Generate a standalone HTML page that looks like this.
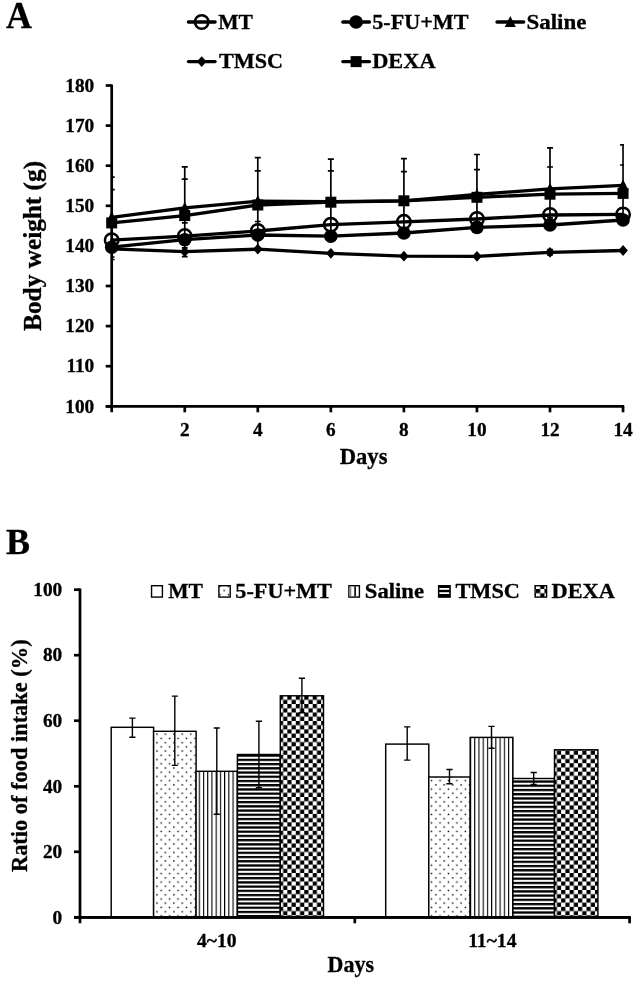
<!DOCTYPE html>
<html lang="en"><head><meta charset="utf-8"><title>Figure</title>
<style>html,body{margin:0;padding:0;background:#fff}body{width:642px;height:988px;overflow:hidden}svg{display:block}</style>
</head><body>
<svg width="642" height="988" viewBox="0 0 642 988" font-family='"Liberation Serif","DejaVu Serif",serif' font-weight="bold" fill="#000">
<defs>
<pattern id="pdot1" patternUnits="userSpaceOnUse" x="156.05" y="733.3" width="8.45" height="8.45"><rect width="8.45" height="8.45" fill="#fff"/><rect x="0.2" y="0.2" width="1.4" height="1.4" fill="#000"/><rect x="4.425" y="4.425" width="1.4" height="1.4" fill="#000"/></pattern>
<pattern id="pvs1" patternUnits="userSpaceOnUse" x="194.5" y="0" width="4.225" height="8"><rect width="4.225" height="8" fill="#fff"/><rect x="0" y="0" width="1.1" height="8" fill="#000"/></pattern>
<pattern id="phs1" patternUnits="userSpaceOnUse" x="0" y="754.5" width="8" height="4.225"><rect width="8" height="4.225" fill="#fff"/><rect x="0" y="0" width="8" height="2.3" fill="#000"/></pattern>
<pattern id="pck1" patternUnits="userSpaceOnUse" x="278.9" y="695.6" width="8.45" height="8.45"><rect width="8.45" height="8.45" fill="#fff"/><rect x="0" y="0" width="4.225" height="4.225" fill="#000"/><rect x="4.225" y="4.225" width="4.225" height="4.225" fill="#000"/></pattern>
<pattern id="pdot2" patternUnits="userSpaceOnUse" x="156.05" y="733.3" width="8.45" height="8.45"><rect width="8.45" height="8.45" fill="#fff"/><rect x="0.2" y="0.2" width="1.4" height="1.4" fill="#000"/><rect x="4.425" y="4.425" width="1.4" height="1.4" fill="#000"/></pattern>
<pattern id="pvs2" patternUnits="userSpaceOnUse" x="195.35" y="0" width="4.225" height="8"><rect width="4.225" height="8" fill="#fff"/><rect x="0" y="0" width="1.1" height="8" fill="#000"/></pattern>
<pattern id="phs2" patternUnits="userSpaceOnUse" x="0" y="755.05" width="8" height="4.225"><rect width="8" height="4.225" fill="#fff"/><rect x="0" y="0" width="8" height="2.3" fill="#000"/></pattern>
<pattern id="pck2" patternUnits="userSpaceOnUse" x="282.27" y="695.6" width="8.45" height="8.45"><rect width="8.45" height="8.45" fill="#fff"/><rect x="0" y="0" width="4.225" height="4.225" fill="#000"/><rect x="4.225" y="4.225" width="4.225" height="4.225" fill="#000"/></pattern>
<pattern id="pdotL" patternUnits="userSpaceOnUse" x="223.35" y="589.6" width="8.45" height="8.45"><rect width="8.45" height="8.45" fill="#fff"/><rect x="0.2" y="0.2" width="1.4" height="1.4" fill="#000"/><rect x="4.425" y="4.425" width="1.4" height="1.4" fill="#000"/></pattern>
<pattern id="pvsL" patternUnits="userSpaceOnUse" x="350" y="0" width="4.225" height="8"><rect width="4.225" height="8" fill="#fff"/><rect x="0" y="0" width="1.1" height="8" fill="#000"/></pattern>
<pattern id="phsL" patternUnits="userSpaceOnUse" x="0" y="586.2" width="8" height="4.225"><rect width="8" height="4.225" fill="#fff"/><rect x="0" y="0" width="8" height="2.3" fill="#000"/></pattern>
<pattern id="pckL" patternUnits="userSpaceOnUse" x="536.0" y="589.0" width="8.45" height="8.45"><rect width="8.45" height="8.45" fill="#fff"/><rect x="0" y="0" width="4.225" height="4.225" fill="#000"/><rect x="4.225" y="4.225" width="4.225" height="4.225" fill="#000"/></pattern>
<clipPath id="clipA"><rect x="111.7" y="80" width="512.25" height="330"/></clipPath>
</defs>
<rect width="642" height="988" fill="#fff"/>
<text transform="translate(5.9 27.8) scale(0.955 1)" font-size="37.6" text-anchor="start" stroke="#000" stroke-width="0.3" >A</text>
<text transform="translate(6 553.8)" font-size="36" text-anchor="start" stroke="#000" stroke-width="0.3" >B</text>
<g stroke="#000" stroke-width="2.7" fill="none" stroke-linecap="butt">
<path d="M111.7 84.40000000000006 V412.3"/>
<path d="M105.7 406.3 H624.15"/>
<path d="M105.7 406.3 H111.7"/>
<path d="M105.7 366.2 H111.7"/>
<path d="M105.7 326.1 H111.7"/>
<path d="M105.7 286.0 H111.7"/>
<path d="M105.7 245.9 H111.7"/>
<path d="M105.7 205.8 H111.7"/>
<path d="M105.7 165.7 H111.7"/>
<path d="M105.7 125.6 H111.7"/>
<path d="M105.7 85.5 H111.7"/>
<path d="M184.75 406.3 V412.3"/>
<path d="M257.8 406.3 V412.3"/>
<path d="M330.85 406.3 V412.3"/>
<path d="M403.9 406.3 V412.3"/>
<path d="M476.95 406.3 V412.3"/>
<path d="M550.0 406.3 V412.3"/>
<path d="M623.05 406.3 V412.3"/>
</g>
<text transform="translate(94.2 412.5) scale(1.07 1)" font-size="18" text-anchor="end" stroke="#000" stroke-width="0.3" >100</text>
<text transform="translate(94.2 372.4) scale(1.07 1)" font-size="18" text-anchor="end" stroke="#000" stroke-width="0.3" >110</text>
<text transform="translate(94.2 332.3) scale(1.07 1)" font-size="18" text-anchor="end" stroke="#000" stroke-width="0.3" >120</text>
<text transform="translate(94.2 292.2) scale(1.07 1)" font-size="18" text-anchor="end" stroke="#000" stroke-width="0.3" >130</text>
<text transform="translate(94.2 252.1) scale(1.07 1)" font-size="18" text-anchor="end" stroke="#000" stroke-width="0.3" >140</text>
<text transform="translate(94.2 212.0) scale(1.07 1)" font-size="18" text-anchor="end" stroke="#000" stroke-width="0.3" >150</text>
<text transform="translate(94.2 171.9) scale(1.07 1)" font-size="18" text-anchor="end" stroke="#000" stroke-width="0.3" >160</text>
<text transform="translate(94.2 131.8) scale(1.07 1)" font-size="18" text-anchor="end" stroke="#000" stroke-width="0.3" >170</text>
<text transform="translate(94.2 91.7) scale(1.07 1)" font-size="18" text-anchor="end" stroke="#000" stroke-width="0.3" >180</text>
<text transform="translate(184.75 435.9) scale(1.07 1)" font-size="18" text-anchor="middle" stroke="#000" stroke-width="0.3" >2</text>
<text transform="translate(257.8 435.9) scale(1.07 1)" font-size="18" text-anchor="middle" stroke="#000" stroke-width="0.3" >4</text>
<text transform="translate(330.85 435.9) scale(1.07 1)" font-size="18" text-anchor="middle" stroke="#000" stroke-width="0.3" >6</text>
<text transform="translate(403.9 435.9) scale(1.07 1)" font-size="18" text-anchor="middle" stroke="#000" stroke-width="0.3" >8</text>
<text transform="translate(476.95 435.9) scale(1.07 1)" font-size="18" text-anchor="middle" stroke="#000" stroke-width="0.3" >10</text>
<text transform="translate(550.0 435.9) scale(1.07 1)" font-size="18" text-anchor="middle" stroke="#000" stroke-width="0.3" >12</text>
<text transform="translate(623.05 435.9) scale(1.07 1)" font-size="18" text-anchor="middle" stroke="#000" stroke-width="0.3" >14</text>
<text transform="translate(363.6 464.4) scale(0.99 1)" font-size="22.8" text-anchor="middle" stroke="#000" stroke-width="0.3" >Days</text>
<text transform="translate(41.4 245.9) rotate(-90) scale(1.037 1)" font-size="24.4" text-anchor="middle" stroke="#000" stroke-width="0.3" >Body weight (g)</text>
<g clip-path="url(#clipA)" stroke="#000" stroke-width="1.7" fill="none">
<path d="M111.7 177.1 V260"/>
<path d="M108.7 177.1 H114.7"/>
<path d="M108.7 189.6 H114.7"/>
<path d="M108.8 257 H114.60000000000001"/>
<path d="M108.8 259.5 H114.60000000000001"/>
<path d="M184.75 166.9 V256.6"/>
<path d="M181.75 166.9 H187.75"/>
<path d="M181.75 179.1 H187.75"/>
<path d="M181.85 222.8 H187.65"/>
<path d="M181.85 247.8 H187.65"/>
<path d="M181.85 256.6 H187.65"/>
<path d="M257.8 157.6 V249"/>
<path d="M254.8 157.6 H260.8"/>
<path d="M254.8 170.9 H260.8"/>
<path d="M254.9 221.5 H260.7"/>
<path d="M330.85 159.1 V236"/>
<path d="M327.85 159.1 H333.85"/>
<path d="M327.85 170.9 H333.85"/>
<path d="M403.9 158.7 V233"/>
<path d="M400.9 158.7 H406.9"/>
<path d="M400.9 171.6 H406.9"/>
<path d="M476.95 154.5 V227.4"/>
<path d="M473.95 154.5 H479.95"/>
<path d="M473.95 169.7 H479.95"/>
<path d="M550.0 147.9 V225"/>
<path d="M547.0 147.9 H553.0"/>
<path d="M547.0 167 H553.0"/>
<path d="M547.1 217.9 H552.9"/>
<path d="M547.1 249.5 H552.9"/>
<path d="M547.1 255 H552.9"/>
<path d="M550.0 249.5 V255"/>
<path d="M623.05 144.9 V220"/>
<path d="M620.05 144.9 H626.05"/>
<path d="M620.05 165 H626.05"/>
</g>
<polyline points="111.7,240.2 184.8,236.1 257.8,231.0 330.9,224.7 403.9,221.8 476.9,219.0 550.0,215.0 623.0,214.4" fill="none" stroke="#000" stroke-width="3.3" stroke-linejoin="round" stroke-linecap="round"/>
<circle cx="111.7" cy="240.2" r="6.75" fill="none" stroke="#000" stroke-width="2.5"/>
<circle cx="184.75" cy="236.1" r="6.75" fill="none" stroke="#000" stroke-width="2.5"/>
<circle cx="257.8" cy="231" r="6.75" fill="none" stroke="#000" stroke-width="2.5"/>
<circle cx="330.85" cy="224.7" r="6.75" fill="none" stroke="#000" stroke-width="2.5"/>
<circle cx="403.9" cy="221.8" r="6.75" fill="none" stroke="#000" stroke-width="2.5"/>
<circle cx="476.95" cy="219" r="6.75" fill="none" stroke="#000" stroke-width="2.5"/>
<circle cx="550.0" cy="215" r="6.75" fill="none" stroke="#000" stroke-width="2.5"/>
<circle cx="623.05" cy="214.4" r="6.75" fill="none" stroke="#000" stroke-width="2.5"/>
<polyline points="111.7,247.2 184.8,239.7 257.8,235.0 330.9,236.2 403.9,233.0 476.9,227.4 550.0,225.0 623.0,220.0" fill="none" stroke="#000" stroke-width="3.3" stroke-linejoin="round" stroke-linecap="round"/>
<circle cx="111.7" cy="247.2" r="6.8"/>
<circle cx="184.75" cy="239.7" r="6.8"/>
<circle cx="257.8" cy="235" r="6.8"/>
<circle cx="330.85" cy="236.2" r="6.8"/>
<circle cx="403.9" cy="233" r="6.8"/>
<circle cx="476.95" cy="227.4" r="6.8"/>
<circle cx="550.0" cy="225" r="6.8"/>
<circle cx="623.05" cy="220" r="6.8"/>
<polyline points="111.7,217.4 184.8,207.9 257.8,201.2 330.9,201.6 403.9,200.8 476.9,194.5 550.0,188.8 623.0,185.3" fill="none" stroke="#000" stroke-width="3.3" stroke-linejoin="round" stroke-linecap="round"/>
<path d="M111.7 211.3 L117.2 222.5 H106.2 Z"/>
<path d="M184.75 201.8 L190.25 213.0 H179.25 Z"/>
<path d="M257.8 195.1 L263.3 206.29999999999998 H252.3 Z"/>
<path d="M330.85 195.5 L336.35 206.7 H325.35 Z"/>
<path d="M403.9 194.70000000000002 L409.4 205.9 H398.4 Z"/>
<path d="M476.95 188.4 L482.45 199.6 H471.45 Z"/>
<path d="M550.0 182.70000000000002 L555.5 193.9 H544.5 Z"/>
<path d="M623.05 179.20000000000002 L628.55 190.4 H617.55 Z"/>
<polyline points="111.7,248.8 184.8,251.7 257.8,249.2 330.9,253.3 403.9,256.2 476.9,256.3 550.0,252.3 623.0,250.5" fill="none" stroke="#000" stroke-width="3.3" stroke-linejoin="round" stroke-linecap="round"/>
<path d="M111.7 243.4 L116.5 248.8 L111.7 254.20000000000002 L106.9 248.8 Z"/>
<path d="M184.75 246.29999999999998 L189.55 251.7 L184.75 257.09999999999997 L179.95 251.7 Z"/>
<path d="M257.8 243.79999999999998 L262.6 249.2 L257.8 254.6 L253.0 249.2 Z"/>
<path d="M330.85 247.9 L335.65000000000003 253.3 L330.85 258.7 L326.05 253.3 Z"/>
<path d="M403.9 250.79999999999998 L408.7 256.2 L403.9 261.59999999999997 L399.09999999999997 256.2 Z"/>
<path d="M476.95 250.9 L481.75 256.3 L476.95 261.7 L472.15 256.3 Z"/>
<path d="M550.0 246.9 L554.8 252.3 L550.0 257.7 L545.2 252.3 Z"/>
<path d="M623.05 245.1 L627.8499999999999 250.5 L623.05 255.9 L618.25 250.5 Z"/>
<polyline points="111.7,222.9 184.8,215.6 257.8,205.0 330.9,202.2 403.9,200.8 476.9,197.3 550.0,194.2 623.0,193.4" fill="none" stroke="#000" stroke-width="3.3" stroke-linejoin="round" stroke-linecap="round"/>
<rect x="106.2" y="217.4" width="11" height="11"/>
<rect x="179.25" y="210.1" width="11" height="11"/>
<rect x="252.3" y="199.5" width="11" height="11"/>
<rect x="325.35" y="196.7" width="11" height="11"/>
<rect x="398.4" y="195.3" width="11" height="11"/>
<rect x="471.45" y="191.8" width="11" height="11"/>
<rect x="544.5" y="188.7" width="11" height="11"/>
<rect x="617.55" y="187.9" width="11" height="11"/>
<path d="M188.39999999999998 22 H215.1" stroke="#000" stroke-width="3.3" stroke-linecap="round"/>
<circle cx="201.7" cy="22" r="6.75" fill="none" stroke="#000" stroke-width="2.5"/>
<text transform="translate(218.3 28.7)" font-size="21.5" text-anchor="start" stroke="#000" stroke-width="0.3" >MT</text>
<path d="M188.39999999999998 61.6 H215.1" stroke="#000" stroke-width="3.3" stroke-linecap="round"/>
<path d="M201.7 56.2 L206.5 61.6 L201.7 67.0 L196.89999999999998 61.6 Z"/>
<text transform="translate(219.0 68.3) scale(1.03 1)" font-size="21.5" text-anchor="start" stroke="#000" stroke-width="0.3" >TMSC</text>
<path d="M342.8 22 H369.5" stroke="#000" stroke-width="3.3" stroke-linecap="round"/>
<circle cx="356.1" cy="22" r="6.8"/>
<text transform="translate(372.2 28.7) scale(1.03 1)" font-size="21.5" text-anchor="start" stroke="#000" stroke-width="0.3" >5-FU+MT</text>
<path d="M342.8 61.6 H369.5" stroke="#000" stroke-width="3.3" stroke-linecap="round"/>
<rect x="350.6" y="56.1" width="11" height="11"/>
<text transform="translate(372.2 68.3) scale(1.04 1)" font-size="21.5" text-anchor="start" stroke="#000" stroke-width="0.3" >DEXA</text>
<path d="M497.0 22 H523.7" stroke="#000" stroke-width="3.3" stroke-linecap="round"/>
<path d="M510.3 15.9 L515.8 27.1 H504.8 Z"/>
<text transform="translate(526.4 28.7) scale(1.07 1)" font-size="21.5" text-anchor="start" stroke="#000" stroke-width="0.3" >Saline</text>
<g stroke="#000" stroke-width="2.7" fill="none">
<path d="M80 588.6 V923.3"/>
<path d="M74 917.3 H630.7"/>
<path d="M74 917.3 H80"/>
<path d="M74 851.8 H80"/>
<path d="M74 786.3 H80"/>
<path d="M74 720.7 H80"/>
<path d="M74 655.2 H80"/>
<path d="M74 589.7 H80"/>
<path d="M354.8 917.3 V923.3"/>
<path d="M629.6 917.3 V923.3"/>
</g>
<text transform="translate(62.2 923.5) scale(1.07 1)" font-size="18" text-anchor="end" stroke="#000" stroke-width="0.3" >0</text>
<text transform="translate(62.2 858.0) scale(1.07 1)" font-size="18" text-anchor="end" stroke="#000" stroke-width="0.3" >20</text>
<text transform="translate(62.2 792.5) scale(1.07 1)" font-size="18" text-anchor="end" stroke="#000" stroke-width="0.3" >40</text>
<text transform="translate(62.2 726.9) scale(1.07 1)" font-size="18" text-anchor="end" stroke="#000" stroke-width="0.3" >60</text>
<text transform="translate(62.2 661.4) scale(1.07 1)" font-size="18" text-anchor="end" stroke="#000" stroke-width="0.3" >80</text>
<text transform="translate(62.2 595.9) scale(1.07 1)" font-size="18" text-anchor="end" stroke="#000" stroke-width="0.3" >100</text>
<text transform="translate(216.7 946.9) scale(1.09 1)" font-size="18" text-anchor="middle" stroke="#000" stroke-width="0.3" >4~10</text>
<text transform="translate(492.3 946.9) scale(1.09 1)" font-size="18" text-anchor="middle" stroke="#000" stroke-width="0.3" >11~14</text>
<text transform="translate(350.8 972) scale(0.965 1)" font-size="22.8" text-anchor="middle" stroke="#000" stroke-width="0.3" >Days</text>
<text transform="translate(27.1 755.7) rotate(-90)" font-size="22.4" text-anchor="middle" stroke="#000" stroke-width="0.3" >Ratio of food intake (%)</text>
<rect x="111.2" y="727.3" width="42.4" height="190.0" fill="#fff" stroke="#000" stroke-width="1.45"/>
<rect x="153.6" y="731.3" width="42.5" height="186.0" fill="url(#pdot1)" stroke="#000" stroke-width="1.45"/>
<rect x="196.1" y="771.3" width="41.3" height="146.0" fill="url(#pvs1)" stroke="#000" stroke-width="1.45"/>
<rect x="237.4" y="754.5" width="42.9" height="162.8" fill="url(#phs1)" stroke="#000" stroke-width="1.45"/>
<rect x="280.3" y="695.8" width="43.2" height="221.5" fill="url(#pck1)" stroke="#000" stroke-width="1.45"/>
<path d="M132.4 718.1 V737.3 M129.3 718.1 H135.5 M129.3 737.3 H135.5" stroke="#000" stroke-width="1.4" fill="none"/>
<path d="M174.8 696.1 V765.4 M171.8 696.1 H177.9 M171.8 765.4 H177.9" stroke="#000" stroke-width="1.4" fill="none"/>
<path d="M216.8 728 V814.3 M213.7 728 H219.8 M213.7 814.3 H219.8" stroke="#000" stroke-width="1.4" fill="none"/>
<path d="M258.9 721.3 V787.7 M255.8 721.3 H262.0 M255.8 787.7 H262.0" stroke="#000" stroke-width="1.4" fill="none"/>
<path d="M301.9 678.2 V712.7 M298.8 678.2 H305.0 M298.8 712.7 H305.0" stroke="#000" stroke-width="1.4" fill="none"/>
<rect x="385.7" y="744.1" width="43.1" height="173.2" fill="#fff" stroke="#000" stroke-width="1.45"/>
<rect x="428.8" y="777" width="41.4" height="140.3" fill="url(#pdot2)" stroke="#000" stroke-width="1.45"/>
<rect x="470.2" y="737.4" width="42.7" height="179.9" fill="url(#pvs2)" stroke="#000" stroke-width="1.45"/>
<rect x="512.9" y="778.5" width="41.6" height="138.8" fill="url(#phs2)" stroke="#000" stroke-width="1.45"/>
<rect x="554.5" y="749.8" width="43.4" height="167.5" fill="url(#pck2)" stroke="#000" stroke-width="1.45"/>
<path d="M407.2 726.9 V760.1 M404.1 726.9 H410.4 M404.1 760.1 H410.4" stroke="#000" stroke-width="1.4" fill="none"/>
<path d="M449.5 769.5 V783.7 M446.4 769.5 H452.6 M446.4 783.7 H452.6" stroke="#000" stroke-width="1.4" fill="none"/>
<path d="M491.5 726.4 V748.3 M488.4 726.4 H494.6 M488.4 748.3 H494.6" stroke="#000" stroke-width="1.4" fill="none"/>
<path d="M533.7 772.5 V784.5 M530.6 772.5 H536.8 M530.6 784.5 H536.8" stroke="#000" stroke-width="1.4" fill="none"/>
<path d="M74 917.3 H630.7" stroke="#000" stroke-width="2.7"/>
<rect x="151.55" y="585.7" width="10.85" height="11.4" fill="#fff" stroke="#000" stroke-width="1.4"/>
<text transform="translate(168.2 598.3)" font-size="21.5" text-anchor="start" stroke="#000" stroke-width="0.3" >MT</text>
<rect x="218.9" y="585.7" width="11.3" height="11.4" fill="url(#pdotL)" stroke="#000" stroke-width="1.4"/>
<text transform="translate(235.3 598.3) scale(1.035 1)" font-size="21.5" text-anchor="start" stroke="#000" stroke-width="0.3" >5-FU+MT</text>
<rect x="348.9" y="585.7" width="10.5" height="11.4" fill="#fff" stroke="#000" stroke-width="1.4"/>
<text transform="translate(364.8 598.3) scale(1.055 1)" font-size="21.5" text-anchor="start" stroke="#000" stroke-width="0.3" >Saline</text>
<rect x="349.3" y="586.4" width="2" height="10" fill="#8a8a8a"/><rect x="354.3" y="586.4" width="1.6" height="10" fill="#000"/>
<rect x="438.6" y="585.7" width="11.5" height="11.4" fill="#000" stroke="#000" stroke-width="1.4"/>
<text transform="translate(455.4 598.3) scale(1.04 1)" font-size="21.5" text-anchor="start" stroke="#000" stroke-width="0.3" >TMSC</text>
<rect x="439.4" y="588" width="9.8" height="1.8" fill="#fff"/><rect x="439.4" y="592.2" width="9.8" height="1.8" fill="#fff"/>
<rect x="535.1" y="585.7" width="11.5" height="11.4" fill="url(#pckL)" stroke="#000" stroke-width="1.4"/>
<text transform="translate(551.5 598.3) scale(1.04 1)" font-size="21.5" text-anchor="start" stroke="#000" stroke-width="0.3" >DEXA</text>
</svg>
</body></html>
